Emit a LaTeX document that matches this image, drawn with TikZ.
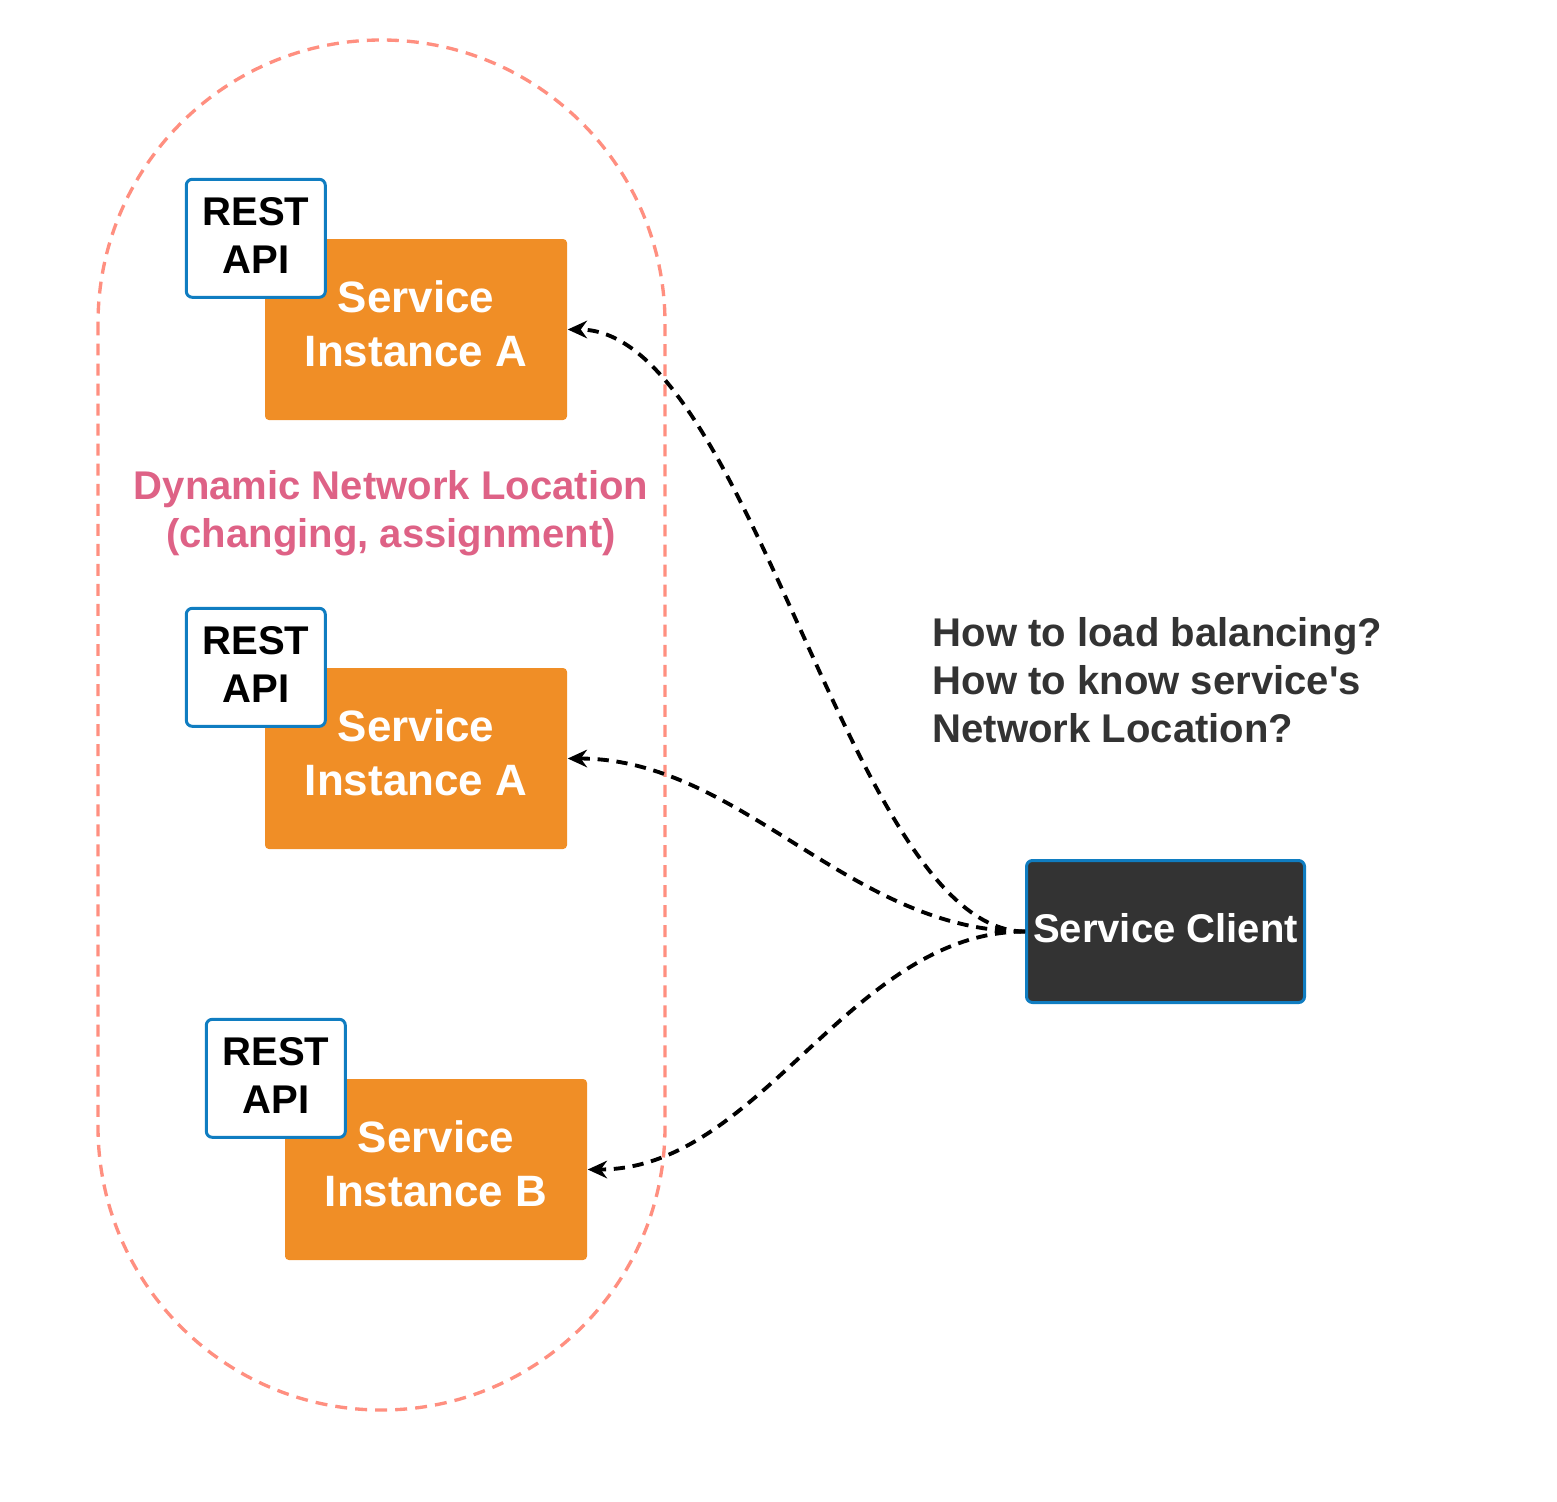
\documentclass[tikz,border=0pt]{standalone}
\usepackage{fontspec}
\setmainfont{Liberation Sans}
\newfontfamily\askfont{Liberation Sans}[Ligatures=TeXOff]
\usetikzlibrary{positioning}
\usetikzlibrary{arrows.meta,arrows}

\definecolor{svcorange}{RGB}{240,142,38}
\definecolor{apiblue}{RGB}{16,125,193}
\definecolor{clientgray}{RGB}{51,51,51}
\definecolor{zonesalmon}{RGB}{255,143,128}
\definecolor{zonepink}{RGB}{222,98,134}
\definecolor{asktext}{RGB}{51,51,51}

\newcommand{\boxtext}[3]{\raisebox{#1}[\height][\depth]{\parbox{#2}{\centering #3}}}

\begin{document}
\begin{tikzpicture}[font=\bfseries\fontsize{11.4}{13.7}\selectfont,
  inst/.style={fill=svcorange, rounded corners=1.1pt, minimum width=3.02cm, minimum height=1.81cm, inner sep=0pt, text=white, font=\bfseries\fontsize{12.5}{15.4}\selectfont},
  api/.style={draw=apiblue, line width=0.85pt, fill=white, rounded corners=1.7pt, minimum width=1.39cm, minimum height=1.18cm, inner sep=0pt},
  client/.style={draw=apiblue, line width=0.85pt, fill=clientgray, rounded corners=1.7pt, minimum width=2.78cm, minimum height=1.42cm, inner sep=0pt, text=white},
  zone/.style={draw=zonesalmon, line width=0.95pt, dash pattern=on 3.4pt off 2.3pt},
  ar/.style={line width=1.1pt, dash pattern=on 3.2pt off 2.2pt, -{Stealth[length=5.5pt,width=5pt]}}]
      \useasboundingbox (0,0) rectangle (15.57,-15.01);

      % dynamic location zone
      \draw[zone, rounded corners=2.835cm] (0.98,-0.40) rectangle (6.65,-14.10);

      \node[inst] (inst1) at (4.16,-3.295) {\boxtext{0.06cm}{3cm}{Service\\Instance A}};
      \node[inst] (inst2) at (4.16,-7.585) {\boxtext{0.06cm}{3cm}{Service\\Instance A}};
      \node[inst] (inst3) at (4.36,-11.695) {\boxtext{0.06cm}{3cm}{Service\\Instance B}};

      \node[api, anchor=south east] (api1) at ([shift={(0.625,-0.605)}]inst1.north west) {\boxtext{0.03cm}{1.39cm}{REST\\API}};
      \node[api, anchor=south east] (api2) at ([shift={(0.625,-0.605)}]inst2.north west) {\boxtext{0.03cm}{1.39cm}{REST\\API}};
      \node[api, anchor=south east] (api3) at ([shift={(0.625,-0.605)}]inst3.north west) {\boxtext{0.03cm}{1.39cm}{REST\\API}};

      \node[text=zonepink, align=center] (dyn) at (3.91,-5.13) {Dynamic Network Location\\(changing, assignment)};

      \node[client] (sc) at (11.655,-9.315) {\boxtext{0.03cm}{2.78cm}{Service Client}};

      \node[text=asktext, align=left, anchor=west, inner sep=0pt, font=\askfont\bfseries\fontsize{11.4}{13.7}\selectfont] (ask) at (9.32,-6.80) {How to load balancing?\\How to know service's\\Network Location?};

      \draw[ar] (sc.west) .. controls +(-1.75,0) and +(1.83,0) .. (inst1.east);
      \draw[ar] (sc.west) .. controls +(-1.75,0) and +(1.73,0) .. (inst2.east);
      \draw[ar] (sc.west) .. controls +(-1.75,0) and +(1.73,0) .. (inst3.east);
    \end{tikzpicture}
\end{document}
